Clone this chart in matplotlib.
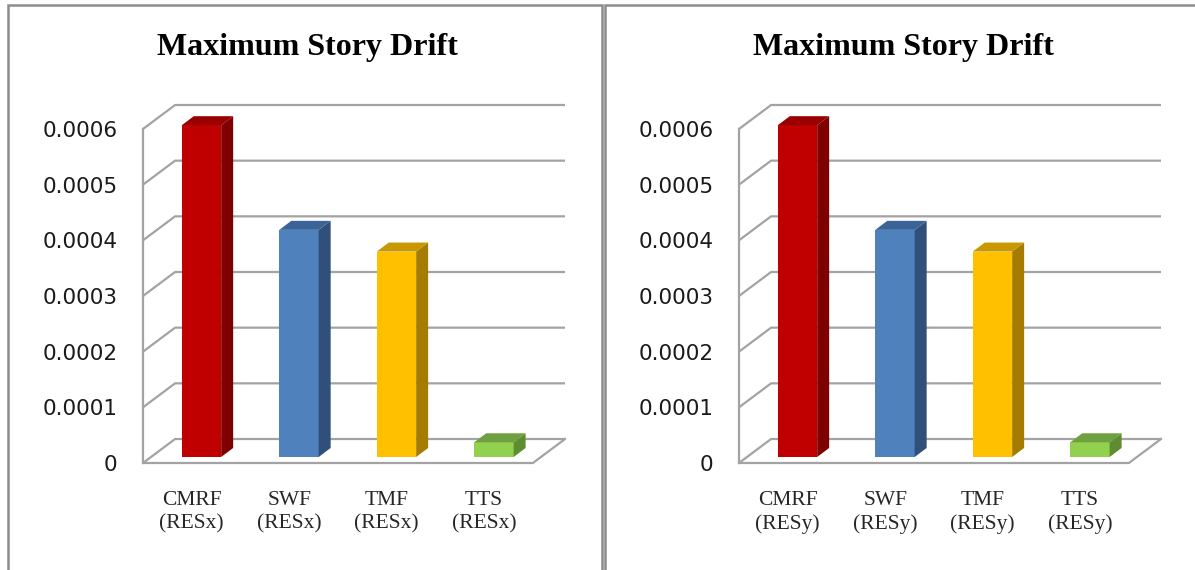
"""
    Maximum story drift of four structural systems,
    RESx and RESy panels drawn as Excel-like 3D bars.
"""
import matplotlib
matplotlib.use("Agg")
import matplotlib.pyplot as plt
from matplotlib.patches import Polygon, Rectangle

# Data
systems = ["CMRF", "SWF", "TMF", "TTS"]
directions = ["RESx", "RESy"]
drift_resx = [0.000596, 0.000408, 0.000369, 0.0000264]
drift_resy = [0.000596, 0.000408, 0.000369, 0.0000264]
yticks = [0, 0.0001, 0.0002, 0.0003, 0.0004, 0.0005, 0.0006]
ytick_labels = ["0", "0.0001", "0.0002", "0.0003", "0.0004", "0.0005", "0.0006"]
title = "Maximum Story Drift"

# Colours (front, side, top)
colors = [("#C00000", "#7F0000", "#990000"),
          ("#4F81BD", "#30507A", "#3A6498"),
          ("#FFC000", "#A67C00", "#C99700"),
          ("#92D050", "#5E8C31", "#6FA040")]
grid_c = "#a3a3a3"

# 3D geometry (category / value units)
DX, DY = 0.329, 0.0000431      # depth of the floor / back wall
BX, BY = 0.10, 0.0000108       # front face offset of the bars
SX, SY = 0.123, 0.0000162      # depth of the bars
W = 0.404

W_PX, H_PX = 1195, 570
fig = plt.figure(figsize=(W_PX / 100, H_PX / 100), dpi=100)
fig.patch.set_facecolor("white")


def px_rect(x0, y0, x1, y1):
    return [x0 / W_PX, 1 - y1 / H_PX, (x1 - x0) / W_PX, (y1 - y0) / H_PX]


# Panel frames
for x0, x1 in [(8, 602), (605, 1205)]:
    fig.add_artist(Rectangle((x0 / W_PX, -0.05), (x1 - x0) / W_PX,
                             1.05 - 5 / H_PX, transform=fig.transFigure,
                             fill=False, edgecolor="#8c8c8c", lw=1.8))


def draw_panel(shift, vals, direction):
    ax = fig.add_axes(px_rect(143 + shift, 105, 565 + shift, 463))
    ax.set_xlim(-0.5, 3.5 + DX)
    ax.set_ylim(0, 0.0006 + DY)
    for s in ax.spines.values():
        s.set_visible(False)

    n = len(vals)
    # back wall gridlines + diagonals
    for v in yticks:
        ax.plot([-0.5, -0.5 + DX, n - 0.5 + DX], [v, v + DY, v + DY],
                color=grid_c, lw=1.6, solid_capstyle="butt", zorder=1, clip_on=False)
    ax.plot([-0.5, -0.5], [0, yticks[-1]], color=grid_c, lw=1.6, zorder=1, clip_on=False)
    # floor
    ax.plot([-0.5, n - 0.5, n - 0.5 + DX], [0, 0, DY],
            color=grid_c, lw=1.6, zorder=1, clip_on=False)

    # bars
    xs = [i + BX for i in range(n)]
    ax.bar(xs, vals, width=W, bottom=BY, color=[c[0] for c in colors],
           linewidth=0, zorder=3)
    for x, v, c in zip(xs, vals, colors):
        r = x + W / 2
        l = x - W / 2
        top = BY + v
        ax.add_patch(Polygon([(r, BY), (r + SX, BY + SY), (r + SX, top + SY), (r, top)],
                             closed=True, facecolor=c[1], lw=0, zorder=3))
        ax.add_patch(Polygon([(l, top), (r, top), (r + SX, top + SY), (l + SX, top + SY)],
                             closed=True, facecolor=c[2], lw=0, zorder=3))

    # axes labels
    ax.set_yticks(yticks)
    ax.set_yticklabels(ytick_labels, fontsize=15.5, color="#1a1a1a",
                       family="DejaVu Sans")
    ax.tick_params(axis="y", length=0, pad=18.5)
    ax.set_xticks(range(n))
    ax.set_xticklabels(["%s\n(%s)" % (s, direction) for s in systems],
                       fontsize=15.5, color="#262626", family="Liberation Serif",
                       linespacing=1.3)
    ax.tick_params(axis="x", length=0, pad=20)

    fig.text((307 + shift) / W_PX, 1 - 55 / H_PX, title, ha="center",
             va="baseline", fontsize=23, fontweight="bold",
             family="Liberation Serif")


draw_panel(0, drift_resx, directions[0])
draw_panel(596, drift_resy, directions[1])

fig.savefig("out.png", dpi=100, facecolor="white")
